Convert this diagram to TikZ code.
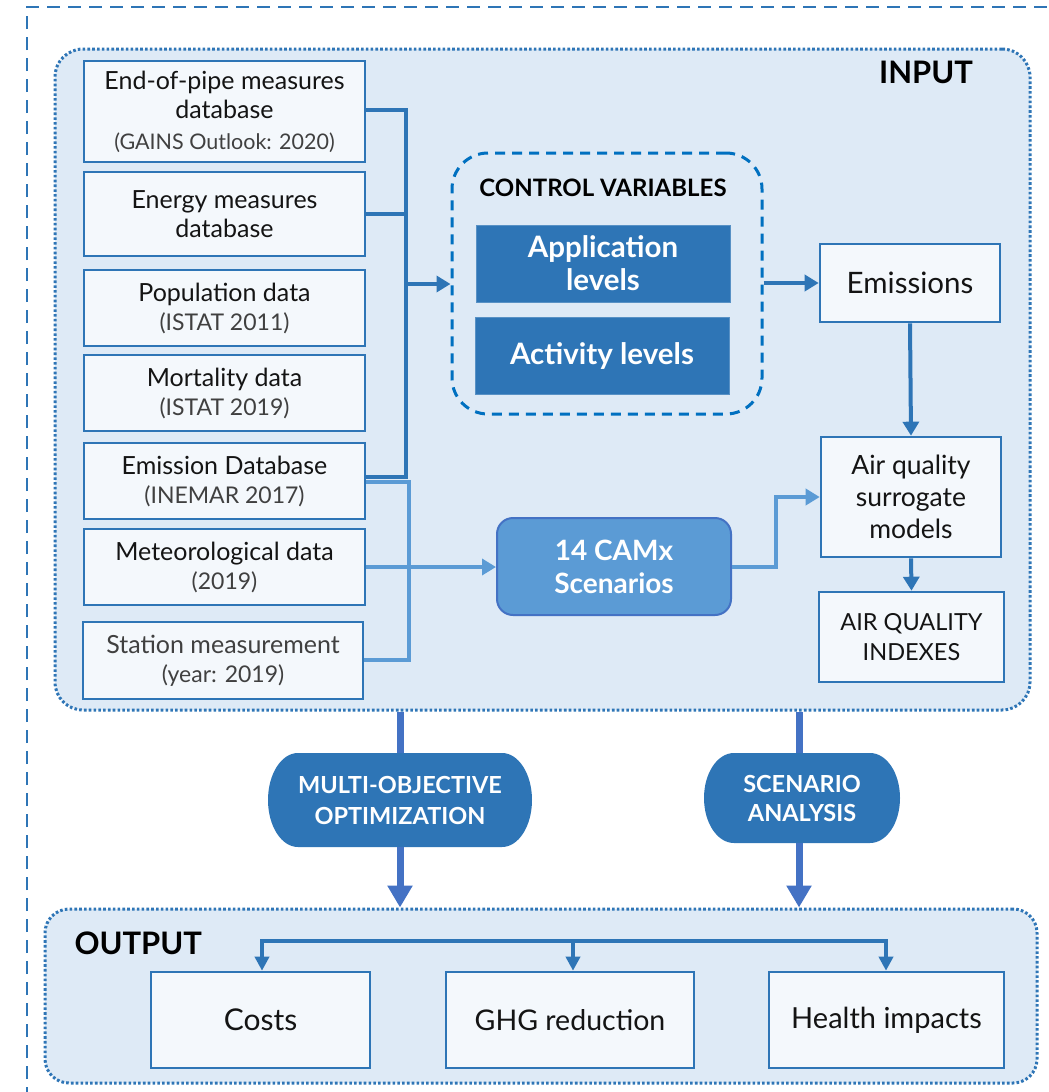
\documentclass[tikz,border=0pt]{standalone}
\usepackage{fontspec}
\setmainfont{Lato}
\usetikzlibrary{arrows.meta,calc}
\definecolor{dkblue}{RGB}{46,117,182}
\definecolor{ltblue}{RGB}{91,155,213}
\definecolor{mdblue}{RGB}{68,114,196}
\definecolor{cvblue}{RGB}{0,112,192}
\definecolor{bgblue}{RGB}{222,234,246}
\definecolor{boxfill}{RGB}{244,248,252}
\definecolor{txt}{RGB}{20,20,20}
\definecolor{gtxt}{RGB}{64,64,64}
\begin{document}
\begin{tikzpicture}[x=1pt,y=-1pt,
  frame/.style={draw=dkblue, fill=bgblue, line width=3pt, dash pattern=on 2.6pt off 2.2pt, rounded corners=28pt},
  inbox/.style={draw=dkblue, fill=boxfill, line width=2.6pt, align=center, inner sep=0pt, text=txt, font=\fontsize{25}{29}\selectfont},
  solid box/.style={draw=dkblue!80!white, fill=dkblue, line width=1pt, align=center, inner sep=0pt, text=white, font=\bfseries\fontsize{29.5}{33}\selectfont},
  darr/.style={draw=dkblue, line width=4pt, -{Triangle[length=14pt,width=16pt]}},
  dline/.style={draw=dkblue, line width=4pt},
  larr/.style={draw=ltblue, line width=4pt, -{Triangle[length=14pt,width=16pt]}},
  lline/.style={draw=ltblue, line width=4pt},
  barr/.style={draw=mdblue, line width=7pt, -{Triangle[length=22pt,width=24pt]}},
  bline/.style={draw=mdblue, line width=7pt},
  oarr/.style={draw=dkblue, line width=4.5pt, -{Triangle[length=14pt,width=14pt]}},
  gsub/.style={text=gtxt, font=\fontsize{23}{29}\selectfont}
]
\useasboundingbox (0,0) rectangle (1049,1092);
\clip (0,0) rectangle (1049,1092);
\fill[white] (0,0) rectangle (1049,1092);

% outer dashed frame
\draw[dkblue, line width=2.4pt, dash pattern=on 13pt off 8pt] (27,1100) -- (27,7) -- (1060,7);

% INPUT frame
\node[frame, minimum width=975pt, minimum height=661pt, inner sep=0pt] (input) at (542.5,379.5) {};
\node[font=\bfseries\fontsize{31}{31}\selectfont, text=black] (inlbl) at (926,72) {INPUT};

% left data boxes
\node[inbox, minimum width=281pt, minimum height=101pt] (b1) at (224.5,111.5)
  {End-of-pipe measures\\database\\[2pt]{\color{gtxt}\fontsize{21.5}{29}\selectfont(GAINS Outlook: 2020)}};
\node[inbox, minimum width=281pt, minimum height=84pt] (b2) at (224.5,214) {Energy measures\\database};
\node[inbox, minimum width=281pt, minimum height=76pt] (b3) at (224.5,308)
  {Population data\\{\color{gtxt}\fontsize{23}{29}\selectfont(ISTAT 2011)}};
\node[inbox, minimum width=281pt, minimum height=76pt] (b4) at (224.5,393)
  {Mortality data\\{\color{gtxt}\fontsize{23}{29}\selectfont(ISTAT 2019)}};
\node[inbox, minimum width=281pt, minimum height=76pt] (b5) at (224.5,481)
  {Emission Database\\{\color{gtxt}\fontsize{23}{29}\selectfont(INEMAR 2017)}};
\node[inbox, minimum width=281pt, minimum height=76pt] (b6) at (224.5,567)
  {Meteorological data\\{\color{gtxt}\fontsize{23}{29}\selectfont(2019)}};
\node[inbox, minimum width=280pt, minimum height=77pt] (b7) at (223,660.5)
  {{\color{gtxt}Station measurement}\\{\color{gtxt}\fontsize{23}{29}\selectfont(year: 2019)}};

% control variables
\node[draw=cvblue, line width=3pt, dash pattern=on 10pt off 7pt, rounded corners=36pt,
      minimum width=310pt, minimum height=261pt, inner sep=0pt] (cv) at (607,283.5) {};
\node[font=\bfseries\fontsize{24}{28}\selectfont, text=black] (cvlbl) at (603,188) {CONTROL VARIABLES};
\node[solid box, minimum width=254pt, minimum height=77pt] (app) at (603,263.5) {Application\\levels};
\node[solid box, minimum width=254pt, minimum height=77pt] (act) at (602,355.5) {Activity levels};

% right column
\node[inbox, minimum width=180pt, minimum height=78pt, font=\fontsize{29.5}{33}\selectfont] (emis) at (910,283) {Emissions};
\node[inbox, minimum width=180pt, minimum height=120pt, font=\fontsize{26.5}{32}\selectfont] (aq) at (911,497) {Air quality\\surrogate\\models};
\node[inbox, minimum width=185pt, minimum height=90pt, font=\fontsize{23.5}{30}\selectfont] (aqi) at (911.5,637) {AIR QUALITY\\INDEXES};

% CAMx
\node[draw=mdblue, fill=ltblue, line width=2pt, rounded corners=16pt, minimum width=234pt, minimum height=97pt,
      align=center, inner sep=0pt, text=white, font=\bfseries\fontsize{28}{33}\selectfont] (camx) at (614,566.5) {14 CAMx\\Scenarios};

% bus connectors
\coordinate (dtop) at (406,110);
\coordinate (dbot) at (406,477);
\coordinate (dmid) at (406,284);
\coordinate (ltop) at (409,482);
\coordinate (lbot) at (409,660);
\coordinate (lmid) at (409,567);
\draw[dline] (b1.east |- dtop) -- (dtop) -- (dbot) -- (b5.east |- dbot);
\draw[dline] (b2.east) -- (b2.east -| dtop);
\draw[darr] (dmid) -- (cv.west |- dmid);
\draw[lline] (b5.east |- ltop) -- (ltop) -- (lbot) -- (b7.east |- lbot);
\draw[lline] (b6.east |- lmid) -- (lmid);
\draw[larr] (lmid) -- (camx.west |- lmid);

\draw[darr] (cv.east |- emis.west) -- (emis.west);
\draw[darr] (emis.south) -- (aq.north);
\draw[darr] (aq.south) -- (aqi.north);
\coordinate (cturn) at (776,567);
\draw[lline, -{Triangle[length=14pt,width=16pt]}] (camx.east |- cturn) -- (cturn) -- (cturn |- 0,497) -- (aq.west |- 0,497);

% OUTPUT frame
\node[frame, minimum width=992pt, minimum height=174pt, rounded corners=24pt, inner sep=0pt] (output) at (541,996) {};
\node[font=\bfseries\fontsize{31}{31}\selectfont, text=black, anchor=west] (outlbl) at (71,943) {OUTPUT};

% process shapes
\fill[dkblue] (298,753) -- (502,753) .. controls (518.6,753) and (532,774) .. (532,800)
  .. controls (532,826) and (518.6,847) .. (502,847) -- (298,847)
  .. controls (281.4,847) and (268,826) .. (268,800)
  .. controls (268,774) and (281.4,753) .. (298,753) -- cycle;
\node[minimum width=264pt, minimum height=94pt, inner sep=0pt, align=center, text=white,
      font=\bfseries\fontsize{23.5}{31}\selectfont] (moo) at (400,800) {MULTI-OBJECTIVE\\OPTIMIZATION};
\fill[dkblue] (734,753) -- (870,753) .. controls (886.6,753) and (900,773) .. (900,798)
  .. controls (900,823) and (886.6,843) .. (870,843) -- (734,843)
  .. controls (717.4,843) and (704,823) .. (704,798)
  .. controls (704,773) and (717.4,753) .. (734,753) -- cycle;
\node[minimum width=196pt, minimum height=90pt, inner sep=0pt, align=center, text=white,
      font=\bfseries\fontsize{23.5}{29}\selectfont] (sa) at (802,798) {SCENARIO\\ANALYSIS};

\draw[bline] (input.south -| moo.north) -- (moo.north);
\draw[barr] (moo.south) -- (moo.south |- output.north);
\draw[bline] (input.south -| 799,0) -- (799,753);
\draw[barr] (799,843) -- (output.north -| 799,0);

% output boxes
\node[inbox, minimum width=219pt, minimum height=96pt, font=\fontsize{30}{33}\selectfont] (costs) at (260.5,1020) {Costs};
\node[inbox, minimum width=248pt, minimum height=96pt, font=\fontsize{28.5}{33}\selectfont] (ghg) at (570,1020) {GHG reduction};
\node[inbox, minimum width=235pt, minimum height=96pt, font=\fontsize{29}{33}\selectfont] (health) at (886.5,1020) {Health impacts};

\coordinate (obl) at (262,941);
\coordinate (obr) at (886,941);
\coordinate (obm) at (573,941);
\draw[oarr] (obm) -- (obm |- ghg.north);
\draw[draw=dkblue, line width=4.5pt, {Triangle[length=14pt,width=14pt]}-{Triangle[length=14pt,width=14pt]}]
  (obl |- costs.north) -- (obl) -- (obr) -- (obr |- health.north);
\end{tikzpicture}
\end{document}
